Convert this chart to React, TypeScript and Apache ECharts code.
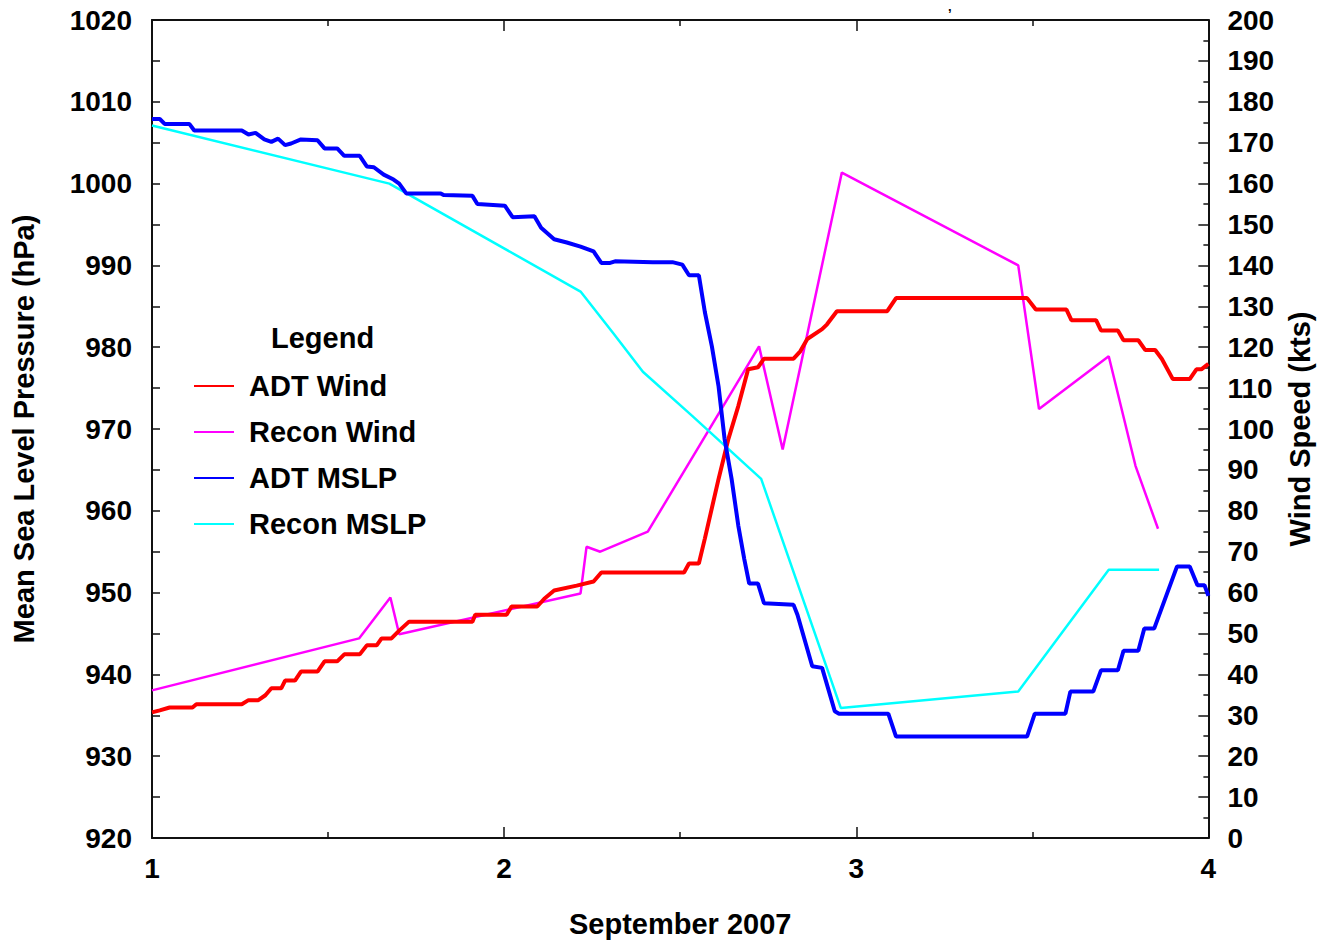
import React, { useEffect, useRef } from "react";
import * as echarts from "echarts";

// X axis: day of September 2007 (UTC, fractional)
const xTicks = [1, 2, 3, 4];
const xAxisTitle = "September 2007";
const leftAxisTitle = "Mean Sea Level Pressure (hPa)";
const rightAxisTitle = "Wind Speed (kts)";
const legendTitle = "Legend";
const clippedTitleTail = ",";
const seriesNames = ["ADT Wind", "Recon Wind", "ADT MSLP", "Recon MSLP"];

// ADT Wind (kts)
const adtWindDays = [
  1.0, 1.022, 1.05, 1.115, 1.126, 1.255, 1.274, 1.302, 1.322, 1.339, 1.367, 1.378, 1.406, 1.423,
  1.47, 1.49, 1.526, 1.546, 1.59, 1.61, 1.638, 1.652, 1.68, 1.702, 1.73, 1.91, 1.918, 2.007,
  2.021, 2.094, 2.114, 2.142, 2.206, 2.254, 2.276, 2.511, 2.525, 2.553, 2.57, 2.609, 2.637,
  2.665, 2.693, 2.721, 2.738, 2.822, 2.841, 2.861, 2.903, 2.917, 2.945, 3.088, 3.113, 3.485,
  3.51, 3.597, 3.611, 3.681, 3.695, 3.743, 3.759, 3.801, 3.821, 3.849, 3.868, 3.899, 3.947,
  3.966, 3.98, 4.0,
];
const adtWind = [
  30.7, 31.2, 31.9, 31.9, 32.7, 32.7, 33.7, 33.7, 34.9, 36.6, 36.6, 38.5, 38.5, 40.7,
  40.7, 43.2, 43.2, 44.9, 44.9, 47.1, 47.1, 48.8, 48.8, 50.7, 52.9, 52.9, 54.6, 54.6,
  56.6, 56.6, 58.5, 60.5, 61.7, 62.7, 64.9, 64.9, 67.1, 67.1, 73.2, 87.8, 97.6,
  105.6, 114.6, 115.1, 117.2, 117.2, 119.0, 122.0, 124.4, 125.6, 128.8, 128.8, 132.0, 132.0,
  129.2, 129.2, 126.6, 126.6, 124.1, 124.1, 121.7, 121.7, 119.3, 119.3, 117.1, 112.2, 112.2,
  114.6, 114.6, 115.9,
];

// Recon Wind (kts)
const reconWindDays = [
  1.0, 1.588, 1.677, 1.702, 2.217, 2.234, 2.273, 2.408, 2.724, 2.791, 2.959, 3.46, 3.519,
  3.717, 3.793, 3.857,
];
const reconWind = [
  36.1, 48.8, 58.8, 49.8, 59.8, 71.2, 70.0, 74.9, 120.2, 95.0, 162.7, 140.0, 104.9,
  117.8, 91.0, 75.6,
];

// ADT MSLP (hPa)
const adtMslpDays = [
  1.0, 1.022, 1.036, 1.106, 1.12, 1.255, 1.274, 1.294, 1.319, 1.339, 1.358, 1.378, 1.395,
  1.423, 1.47, 1.49, 1.526, 1.546, 1.59, 1.61, 1.63, 1.658, 1.686, 1.702, 1.722, 1.82,
  1.828, 1.91, 1.924, 2.002, 2.024, 2.086, 2.105, 2.142, 2.178, 2.217, 2.254, 2.276, 2.301,
  2.315, 2.422, 2.478, 2.506, 2.525, 2.553, 2.57, 2.59, 2.609, 2.626, 2.646, 2.665, 2.682,
  2.696, 2.721, 2.738, 2.822, 2.833, 2.875, 2.903, 2.939, 2.951, 3.091, 3.113, 3.485, 3.507,
  3.594, 3.608, 3.673, 3.695, 3.743, 3.759, 3.801, 3.818, 3.846, 3.911, 3.947, 3.969, 3.989,
  4.0,
];
const adtMslp = [
  1007.9, 1007.9, 1007.3, 1007.3, 1006.5, 1006.5, 1006.0, 1006.2, 1005.4, 1005.1, 1005.5,
  1004.7, 1004.9, 1005.4, 1005.3, 1004.3, 1004.3, 1003.4, 1003.4, 1002.1, 1002.0, 1001.1,
  1000.5, 1000.0, 998.8, 998.8, 998.6, 998.5, 997.5, 997.3, 995.9, 996.0, 994.6, 993.2,
  992.8, 992.3, 991.7, 990.3, 990.3, 990.5, 990.4, 990.4, 990.1, 988.8, 988.8, 984.3, 980.1,
  975.2, 968.8, 963.9, 958.2, 954.1, 951.1, 951.1, 948.7, 948.5, 947.3, 941.0, 940.8, 935.5,
  935.2, 935.2, 932.4, 932.4, 935.2, 935.2, 937.9, 937.9, 940.5, 940.5, 942.9, 942.9, 945.6,
  945.6, 953.2, 953.2, 950.9, 950.9, 949.6,
];

// Recon MSLP (hPa)
const reconMslpDays = [1.0, 1.674, 2.217, 2.31, 2.394, 2.534, 2.73, 2.956, 3.46, 3.717, 3.86];
const reconMslp = [1007.1, 1000.0, 986.8, 981.7, 977.0, 971.6, 963.9, 935.9, 937.9, 952.8, 952.8];

const zip = (xs: number[], ys: number[]) => xs.map((x, i) => [x, ys[i]]);

const FONT = "Liberation Sans";

export default function App() {
  const ref = useRef<HTMLDivElement>(null);
  useEffect(() => {
    if (!ref.current) return;
    const chart = echarts.init(ref.current, undefined, { renderer: "svg" });
    const axisLine = { show: true, lineStyle: { color: "#111", width: 2 } };
    const labelStyle = {
      fontFamily: FONT,
      fontWeight: "bold",
      fontSize: 28,
      color: "#000",
      formatter: (v: number) => String(v),
    };
    const nameStyle = { fontFamily: FONT, fontWeight: "bold", fontSize: 29, color: "#000" };
    const tickStyle = { color: "#111", width: 1.5 };
    chart.setOption({
      animation: false,
      backgroundColor: "#fff",
      grid: { left: 152, right: 98, top: 20, bottom: 103, containLabel: false },
      legend: {
        orient: "vertical",
        left: 193,
        top: 371,
        padding: 0,
        itemWidth: 40,
        itemHeight: 14,
        itemGap: 16,
        data: seriesNames,
        selectedMode: false,
        itemStyle: { opacity: 0 },
        textStyle: {
          fontFamily: FONT,
          fontWeight: "bold",
          fontSize: 29,
          lineHeight: 30,
          color: "#000",
          padding: [0, 0, 0, 10],
        },
      },
      graphic: [
        {
          type: "text",
          left: 271,
          top: 323,
          style: { text: legendTitle, fontFamily: FONT, fontWeight: "bold", fontSize: 29, fill: "#000" },
        },
        {
          type: "text",
          left: 948,
          top: 0,
          style: {
            text: clippedTitleTail,
            fontFamily: FONT,
            fontWeight: "bold",
            fontSize: 13,
            fill: "#000",
          },
        },
      ],
      xAxis: [
        {
          type: "value",
          min: xTicks[0],
          max: xTicks[xTicks.length - 1],
          interval: 1,
          position: "bottom",
          name: xAxisTitle,
          nameLocation: "middle",
          nameGap: 71,
          nameTextStyle: nameStyle,
          axisLine,
          axisTick: { show: true, inside: true, length: 11, lineStyle: tickStyle },
          minorTick: { show: true, splitNumber: 2, length: 6, lineStyle: tickStyle },
          axisLabel: { ...labelStyle, margin: 16 },
          splitLine: { show: false },
        },
        {
          type: "value",
          min: xTicks[0],
          max: xTicks[xTicks.length - 1],
          interval: 1,
          position: "top",
          axisLine,
          axisTick: { show: true, inside: true, length: 11, lineStyle: tickStyle },
          minorTick: { show: true, splitNumber: 2, length: 6, lineStyle: tickStyle },
          axisLabel: { show: false },
          splitLine: { show: false },
        },
      ],
      yAxis: [
        {
          type: "value",
          min: 920,
          max: 1020,
          interval: 10,
          position: "left",
          name: leftAxisTitle,
          nameLocation: "middle",
          nameRotate: 90,
          nameGap: 114,
          nameTextStyle: nameStyle,
          axisLine,
          axisTick: { show: true, inside: true, length: 8, lineStyle: tickStyle },
          minorTick: { show: true, splitNumber: 2, length: 8, lineStyle: tickStyle },
          axisLabel: { ...labelStyle, margin: 20 },
          splitLine: { show: false },
        },
        {
          type: "value",
          min: 0,
          max: 200,
          interval: 10,
          position: "right",
          name: rightAxisTitle,
          nameLocation: "middle",
          nameRotate: 90,
          nameGap: 67,
          nameTextStyle: nameStyle,
          axisLine,
          axisTick: { show: true, inside: true, length: 10, lineStyle: tickStyle },
          minorTick: { show: true, splitNumber: 2, length: 5, lineStyle: tickStyle },
          axisLabel: { ...labelStyle, margin: 19 },
          splitLine: { show: false },
        },
      ],
      series: [
        {
          name: "Recon Wind",
          type: "line",
          yAxisIndex: 1,
          symbol: "none",
          z: 2,
          lineStyle: { color: "#ff00ff", width: 2.5 },
          itemStyle: { color: "#ff00ff" },
          data: zip(reconWindDays, reconWind),
        },
        {
          name: "Recon MSLP",
          type: "line",
          yAxisIndex: 0,
          symbol: "none",
          z: 2,
          lineStyle: { color: "#00ffff", width: 2.5 },
          itemStyle: { color: "#00ffff" },
          data: zip(reconMslpDays, reconMslp),
        },
        {
          name: "ADT Wind",
          type: "line",
          yAxisIndex: 1,
          symbol: "none",
          z: 3,
          lineStyle: { color: "#ff0000", width: 4 },
          itemStyle: { color: "#ff0000" },
          data: zip(adtWindDays, adtWind),
        },
        {
          name: "ADT MSLP",
          type: "line",
          yAxisIndex: 0,
          symbol: "none",
          z: 3,
          lineStyle: { color: "#0000ff", width: 4 },
          itemStyle: { color: "#0000ff" },
          data: zip(adtMslpDays, adtMslp),
        },
      ],
    });
    return () => chart.dispose();
  }, []);
  return (
    <div
      ref={ref}
      style={{ position: "absolute", left: 0, top: 0, width: 1322, height: 943, background: "#fff" }}
    />
  );
}
